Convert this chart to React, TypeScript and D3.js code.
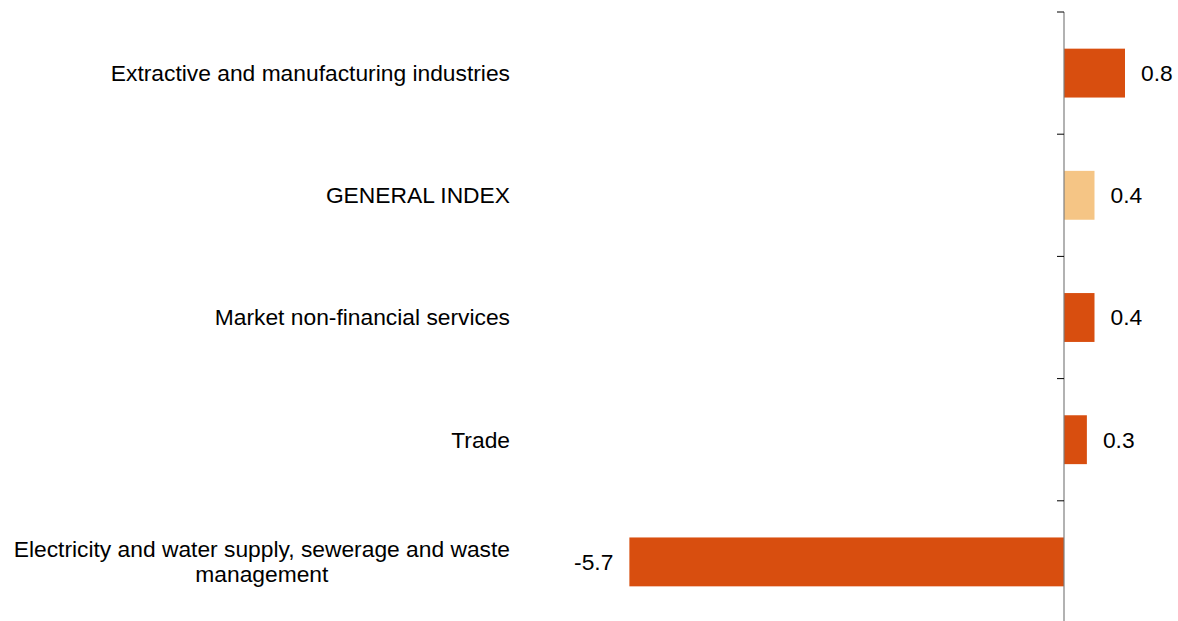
import React, { useEffect, useRef } from "react";
import * as d3 from "d3";

const categories: string[][] = [
  ["Extractive and manufacturing industries"],
  ["GENERAL INDEX"],
  ["Market non-financial services"],
  ["Trade"],
  ["Electricity and water supply, sewerage and waste", "management"],
];
const values: number[] = [0.8, 0.4, 0.4, 0.3, -5.7];
const highlight: boolean[] = [false, true, false, false, false];
const valueLabels: string[] = ["0.8", "0.4", "0.4", "0.3", "-5.7"];

const W = 1178;
const H = 621;
const ZERO_X = 1064;
const PX_PER_UNIT = 76.25;
const TOP = 12;
const BAND = 122.2;
const LABEL_X = 510;
const FONT = "'Liberation Sans', Arial, sans-serif";
const FS = 22.8;
const BAR_COLOR = "#D84E0F";
const HI_COLOR = "#F5C585";

export default function App() {
  const ref = useRef<SVGSVGElement>(null);

  useEffect(() => {
    const svg = d3.select(ref.current);
    svg.selectAll("*").remove();

    const x = d3
      .scaleLinear()
      .domain([-6, 1.5])
      .range([ZERO_X - 6 * PX_PER_UNIT, ZERO_X + 1.5 * PX_PER_UNIT]);
    const y = d3
      .scaleBand<number>()
      .domain(d3.range(categories.length))
      .range([TOP, TOP + BAND * categories.length])
      .paddingInner(0.6)
      .paddingOuter(0.3);

    const g = svg.append("g");

    g.selectAll("rect.bar")
      .data(values)
      .join("rect")
      .attr("class", "bar")
      .attr("x", (d) => x(Math.min(0, d)))
      .attr("width", (d) => Math.abs(x(d) - x(0)))
      .attr("y", (_, i) => y(i)!)
      .attr("height", y.bandwidth())
      .attr("fill", (_, i) => (highlight[i] ? HI_COLOR : BAR_COLOR));

    const axisBottom = TOP + BAND * categories.length;
    g.append("line")
      .attr("x1", x(0))
      .attr("x2", x(0))
      .attr("y1", TOP)
      .attr("y2", axisBottom)
      .attr("stroke", "#7f7f7f")
      .attr("stroke-width", 1.2);

    const ticks = d3.range(categories.length + 1).map((i) => TOP + i * BAND);
    g.selectAll("line.tick")
      .data(ticks)
      .join("line")
      .attr("class", "tick")
      .attr("x1", x(0) - 7)
      .attr("x2", x(0))
      .attr("y1", (d) => d)
      .attr("y2", (d) => d)
      .attr("stroke", "#000")
      .attr("stroke-width", 1);

    g.selectAll("text.val")
      .data(values)
      .join("text")
      .attr("class", "val")
      .attr("x", (d) => (d >= 0 ? x(d) + 16 : x(d) - 16))
      .attr("y", (_, i) => y(i)! + y.bandwidth() / 2)
      .attr("dy", "0.35em")
      .attr("text-anchor", (d) => (d >= 0 ? "start" : "end"))
      .attr("font-family", FONT)
      .attr("font-size", FS)
      .attr("fill", "#000")
      .text((_, i) => valueLabels[i]);

    categories.forEach((lines, i) => {
      const cy = y(i)! + y.bandwidth() / 2;
      const lh = 25;
      const t = g
        .append("text")
        .attr("font-family", FONT)
        .attr("font-size", FS)
        .attr("fill", "#000");
      if (lines.length === 1) {
        t.attr("x", LABEL_X)
          .attr("y", cy)
          .attr("dy", "0.35em")
          .attr("text-anchor", "end")
          .text(lines[0]);
      } else {
        const probe = g
          .append("text")
          .attr("font-family", FONT)
          .attr("font-size", FS)
          .text(lines[0]);
        const w = (probe.node() as SVGTextElement).getComputedTextLength();
        probe.remove();
        const cx = LABEL_X - w / 2;
        t.attr("text-anchor", "middle");
        lines.forEach((ln, k) => {
          t.append("tspan")
            .attr("x", cx)
            .attr("y", cy + (k - (lines.length - 1) / 2) * lh)
            .attr("dy", "0.35em")
            .text(ln);
        });
      }
    });
  }, []);

  return (
    <svg
      ref={ref}
      width={W}
      height={H}
      style={{ position: "absolute", left: 0, top: 0, background: "#fff" }}
    />
  );
}
